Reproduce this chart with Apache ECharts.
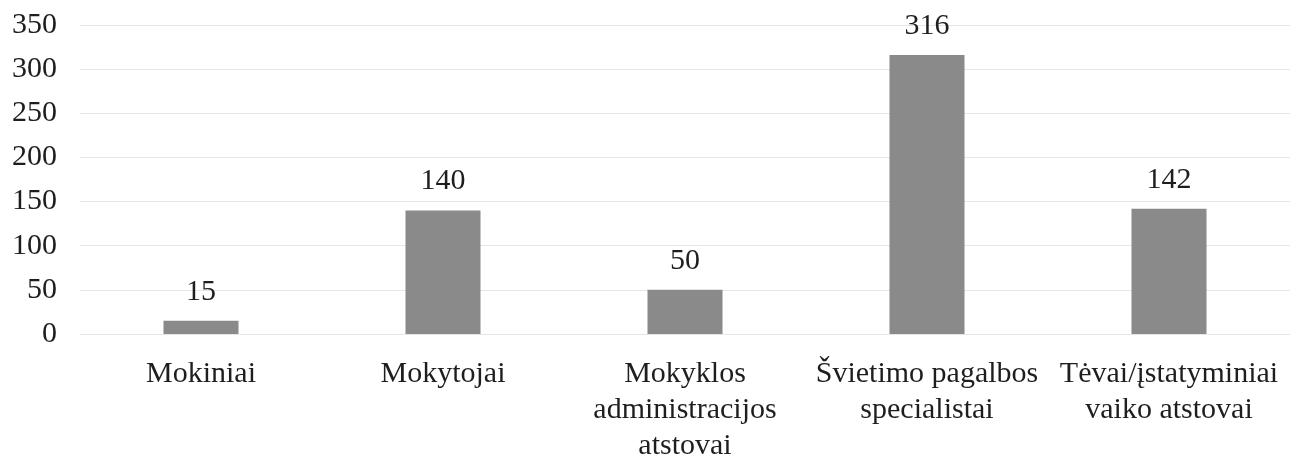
<!DOCTYPE html>
<html>
<head>
<meta charset="utf-8">
<script src="https://cdn.jsdelivr.net/npm/echarts@6/dist/echarts.min.js"></script>
<style>
  html, body { margin: 0; padding: 0; background: #fff; }
  #chart { width: 1298px; height: 470px; }
</style>
</head>
<body>
<div id="chart"></div>
<script>
// categories and values
let categories = [
    'Mokiniai',
    'Mokytojai',
    'Mokyklos\nadministracijos\natstovai',
    'Švietimo pagalbos\nspecialistai',
    'Tėvai/įstatyminiai\nvaiko atstovai'
];
let values = [15, 140, 50, 316, 142];
let yTicks = [0, 50, 100, 150, 200, 250, 300, 350];

let font = '"Liberation Serif", "DejaVu Serif", serif';

let option = {
    animation: false,
    textStyle: { fontFamily: font },
    grid: {
        left: 80,
        right: 8,
        top: 25,
        bottom: 136
    },
    xAxis: {
        type: 'category',
        data: categories,
        axisLine: { show: false },
        axisTick: { show: false },
        axisLabel: {
            interval: 0,
            color: '#1e1e1e',
            fontFamily: font,
            fontSize: 30,
            lineHeight: 36,
            margin: 22
        }
    },
    yAxis: {
        type: 'value',
        min: yTicks[0],
        max: yTicks[yTicks.length - 1],
        interval: 50,
        axisLine: { show: false },
        axisTick: { show: false },
        splitLine: { lineStyle: { color: '#e6e6e6', width: 1 } },
        axisLabel: {
            color: '#1e1e1e',
            fontFamily: font,
            fontSize: 30,
            margin: 23
        }
    },
    series: [{
        type: 'bar',
        data: values,
        barWidth: '31%',
        itemStyle: { color: '#8a8a8a' },
        label: {
            show: true,
            position: 'top',
            distance: 14,
            color: '#1e1e1e',
            fontFamily: font,
            fontSize: 30
        }
    }]
};

let chart = echarts.init(document.getElementById('chart'));
chart.setOption(option);
</script>
</body>
</html>
